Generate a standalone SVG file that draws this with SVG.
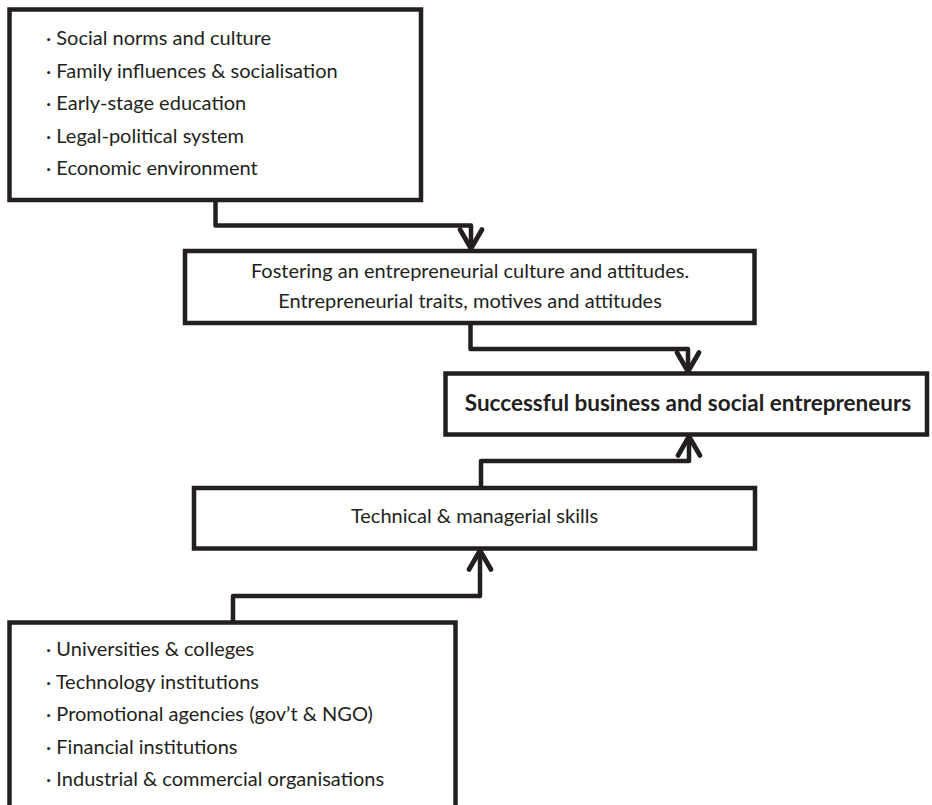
<svg xmlns="http://www.w3.org/2000/svg" width="932" height="805" viewBox="0 0 932 805">
  <style>
    .box { fill: #ffffff; stroke: #231f20; stroke-width: 4.5; }
    .txt { font-family: Lato, "Open Sans", "Liberation Sans", sans-serif; font-size: 20px; fill: #231f20; }
    .bold { font-weight: bold; font-size: 22.5px; }
    .mid { text-anchor: middle; }
    .link { fill: none; stroke: #231f20; stroke-width: 4.5; stroke-linejoin: round; marker-end: url(#chev); }
  </style>
  <defs>
    <!-- open chevron arrowhead, tip at the end of the line -->
    <marker id="chev" markerUnits="userSpaceOnUse" markerWidth="40" markerHeight="40" viewBox="-30 -20 40 40" refX="0" refY="0" orient="auto">
      <path d="M-19,-11 L0,0 L-19,11" fill="none" stroke="#231f20" stroke-width="4.8" stroke-linecap="round" stroke-linejoin="round"/>
    </marker>
  </defs>

  <g id="background">
    <rect x="0" y="0" width="932" height="805" fill="#ffffff"/>
  </g>

  <g id="connectors">
    <path class="link" d="M215.5,200 V225.5 H471 V248.5"/>
    <path class="link" d="M470.5,323 V349 H688 V371.5"/>
    <path class="link" d="M481,488 V461 H689 V436.5"/>
    <path class="link" d="M233,622.5 V596 H480 V550.5"/>
  </g>

  <g id="node-context">
    <rect class="box" x="9.5" y="9.5" width="411.5" height="190.5"/>
    <text class="txt" x="46" y="45">· Social norms and culture</text>
    <text class="txt" x="46" y="77.5">· Family influences &amp; socialisation</text>
    <text class="txt" x="46" y="110">· Early-stage education</text>
    <text class="txt" x="46" y="142.5">· Legal-political system</text>
    <text class="txt" x="46" y="175">· Economic environment</text>
  </g>

  <g id="node-culture">
    <rect class="box" x="185" y="251" width="569.5" height="72"/>
    <text class="txt mid" x="470" y="278">Fostering an entrepreneurial culture and attitudes.</text>
    <text class="txt mid" x="470" y="308">Entrepreneurial traits, motives and attitudes</text>
  </g>

  <g id="node-entrepreneurs">
    <rect class="box" x="445.5" y="373.5" width="481.5" height="61"/>
    <text class="txt bold mid" x="688" y="411">Successful business and social entrepreneurs</text>
  </g>

  <g id="node-skills">
    <rect class="box" x="194" y="488" width="561" height="60.5"/>
    <text class="txt mid" x="474.5" y="523">Technical &amp; managerial skills</text>
  </g>

  <g id="node-institutions">
    <rect class="box" x="9.5" y="622.5" width="446" height="200"/>
    <text class="txt" x="46" y="656">· Universities &amp; colleges</text>
    <text class="txt" x="46" y="688.5">· Technology institutions</text>
    <text class="txt" x="46" y="721">· Promotional agencies (gov’t &amp; NGO)</text>
    <text class="txt" x="46" y="753.5">· Financial institutions</text>
    <text class="txt" x="46" y="786">· Industrial &amp; commercial organisations</text>
  </g>
</svg>
